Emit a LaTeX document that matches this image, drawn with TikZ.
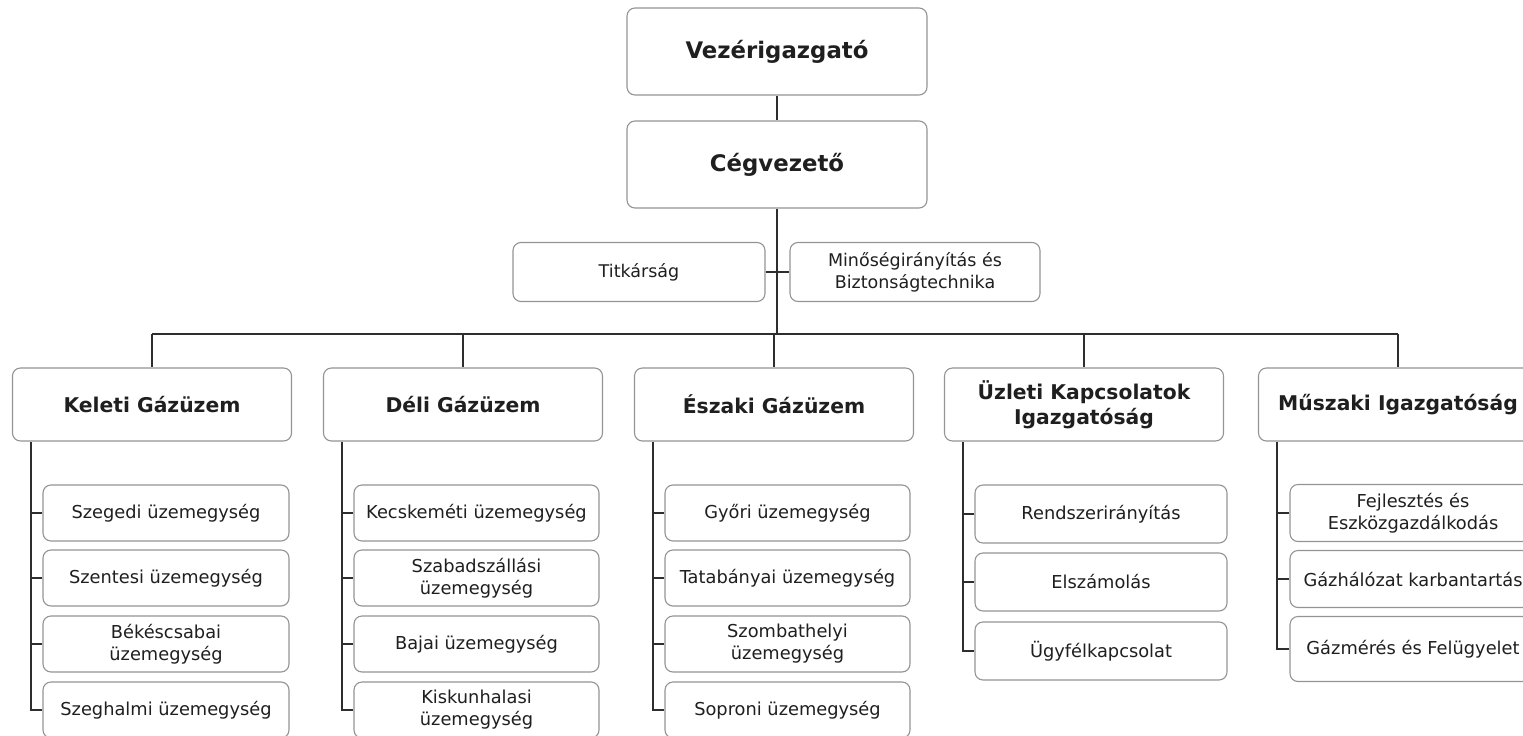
\documentclass[tikz,border=0pt]{standalone}
\usepackage{fontspec}
\setmainfont{DejaVu Sans}
\begin{document}
\begin{tikzpicture}[x=1pt,y=-1pt,
  box/.style={draw=black!42, line width=1.1pt, rounded corners=8pt, fill=white, align=center, inner sep=0pt, text=black!88},
  topbox/.style={box, minimum width=300pt, minimum height=87pt, font=\fontsize{22.8}{27}\selectfont\bfseries},
  sidebox/.style={box, minimum height=59pt, font=\fontsize{17.5}{22}\selectfont},
  headbox/.style={box, minimum width=279pt, minimum height=73pt, font=\fontsize{20.3}{25}\selectfont\bfseries},
  unitbox/.style={box, minimum width=246pt, minimum height=56pt, font=\fontsize{17.8}{22}\selectfont},
  link/.style={draw=black!82, line width=2pt}]
\useasboundingbox (0,0) rectangle (1523,736);
\clip (0,0) rectangle (1523,736);

% top
\node[topbox] (vez) at (777,51.5) {Vezérigazgató};
\node[topbox] (ceg) at (777,164.5) {Cégvezető};
\node[sidebox, minimum width=252pt] (tit) at (639,272) {Titkárság};
\node[sidebox, minimum width=250pt] (min) at (915,272) {Minőségirányítás és\\Biztonságtechnika};

% level 2
\node[headbox] (kel) at (152,404.5) {Keleti Gázüzem};
\node[headbox] (del) at (463,404.5) {Déli Gázüzem};
\node[headbox] (esz) at (774,404.5) {Északi Gázüzem};
\node[headbox] (uzl) at (1084,404.5) {Üzleti Kapcsolatok\\Igazgatóság};
\node[headbox] (mus) at (1398,404.5) {Műszaki Igazgatóság};

\coordinate (bus) at (777,334);
\coordinate (busL) at (152,334);
\coordinate (busR) at (1398,334);

% Keleti units
\node[unitbox] (k1) at (166,513) {Szegedi üzemegység};
\node[unitbox] (k2) at (166,578) {Szentesi üzemegység};
\node[unitbox] (k3) at (166,644) {Békéscsabai\\üzemegység};
\node[unitbox] (k4) at (166,710) {Szeghalmi üzemegység};
% Deli units
\node[unitbox, minimum width=245pt] (d1) at (476.5,513) {Kecskeméti üzemegység};
\node[unitbox, minimum width=245pt] (d2) at (476.5,578) {Szabadszállási\\üzemegység};
\node[unitbox, minimum width=245pt] (d3) at (476.5,644) {Bajai üzemegység};
\node[unitbox, minimum width=245pt] (d4) at (476.5,710) {Kiskunhalasi\\üzemegység};
% Eszaki units
\node[unitbox, minimum width=245pt] (e1) at (787.5,513) {Győri üzemegység};
\node[unitbox, minimum width=245pt] (e2) at (787.5,578) {Tatabányai üzemegység};
\node[unitbox, minimum width=245pt] (e3) at (787.5,644) {Szombathelyi\\üzemegység};
\node[unitbox, minimum width=245pt] (e4) at (787.5,710) {Soproni üzemegység};
% Uzleti units
\node[unitbox, minimum width=252pt, minimum height=58pt] (u1) at (1101,514) {Rendszerirányítás};
\node[unitbox, minimum width=252pt, minimum height=58pt] (u2) at (1101,582) {Elszámolás};
\node[unitbox, minimum width=252pt, minimum height=58pt] (u3) at (1101,651) {Ügyfélkapcsolat};
% Muszaki units
\node[unitbox, minimum width=246pt, minimum height=57pt] (m1) at (1413,513) {Fejlesztés és\\Eszközgazdálkodás};
\node[unitbox, minimum width=246pt, minimum height=57pt] (m2) at (1413,579) {Gázhálózat karbantartás};
\node[unitbox, minimum width=246pt, minimum height=65pt] (m3) at (1413,649) {Gázmérés és Felügyelet};

% connectors
\draw[link] (vez) -- (ceg);
\draw[link] (ceg) -- (bus);
\draw[link] (tit) -- (min);
\draw[link] (busL) -- (busR);
\foreach \n in {kel,del,esz,uzl,mus}{
  \draw[link] (\n.north |- bus) -- (\n.north);
}
\foreach \h/\a/\b in {kel/k1/k4, del/d1/d4, esz/e1/e4, uzl/u1/u3, mus/m1/m3}{
  \draw[link] ([xshift=19.5pt]\h.south west) |- (\b.west);
}
\foreach \h/\c in {kel/k1,kel/k2,kel/k3, del/d1,del/d2,del/d3, esz/e1,esz/e2,esz/e3, uzl/u1,uzl/u2, mus/m1,mus/m2}{
  \draw[link] ([xshift=19.5pt]\h.south west |- \c.west) -- (\c.west);
}
\end{tikzpicture}
\end{document}
